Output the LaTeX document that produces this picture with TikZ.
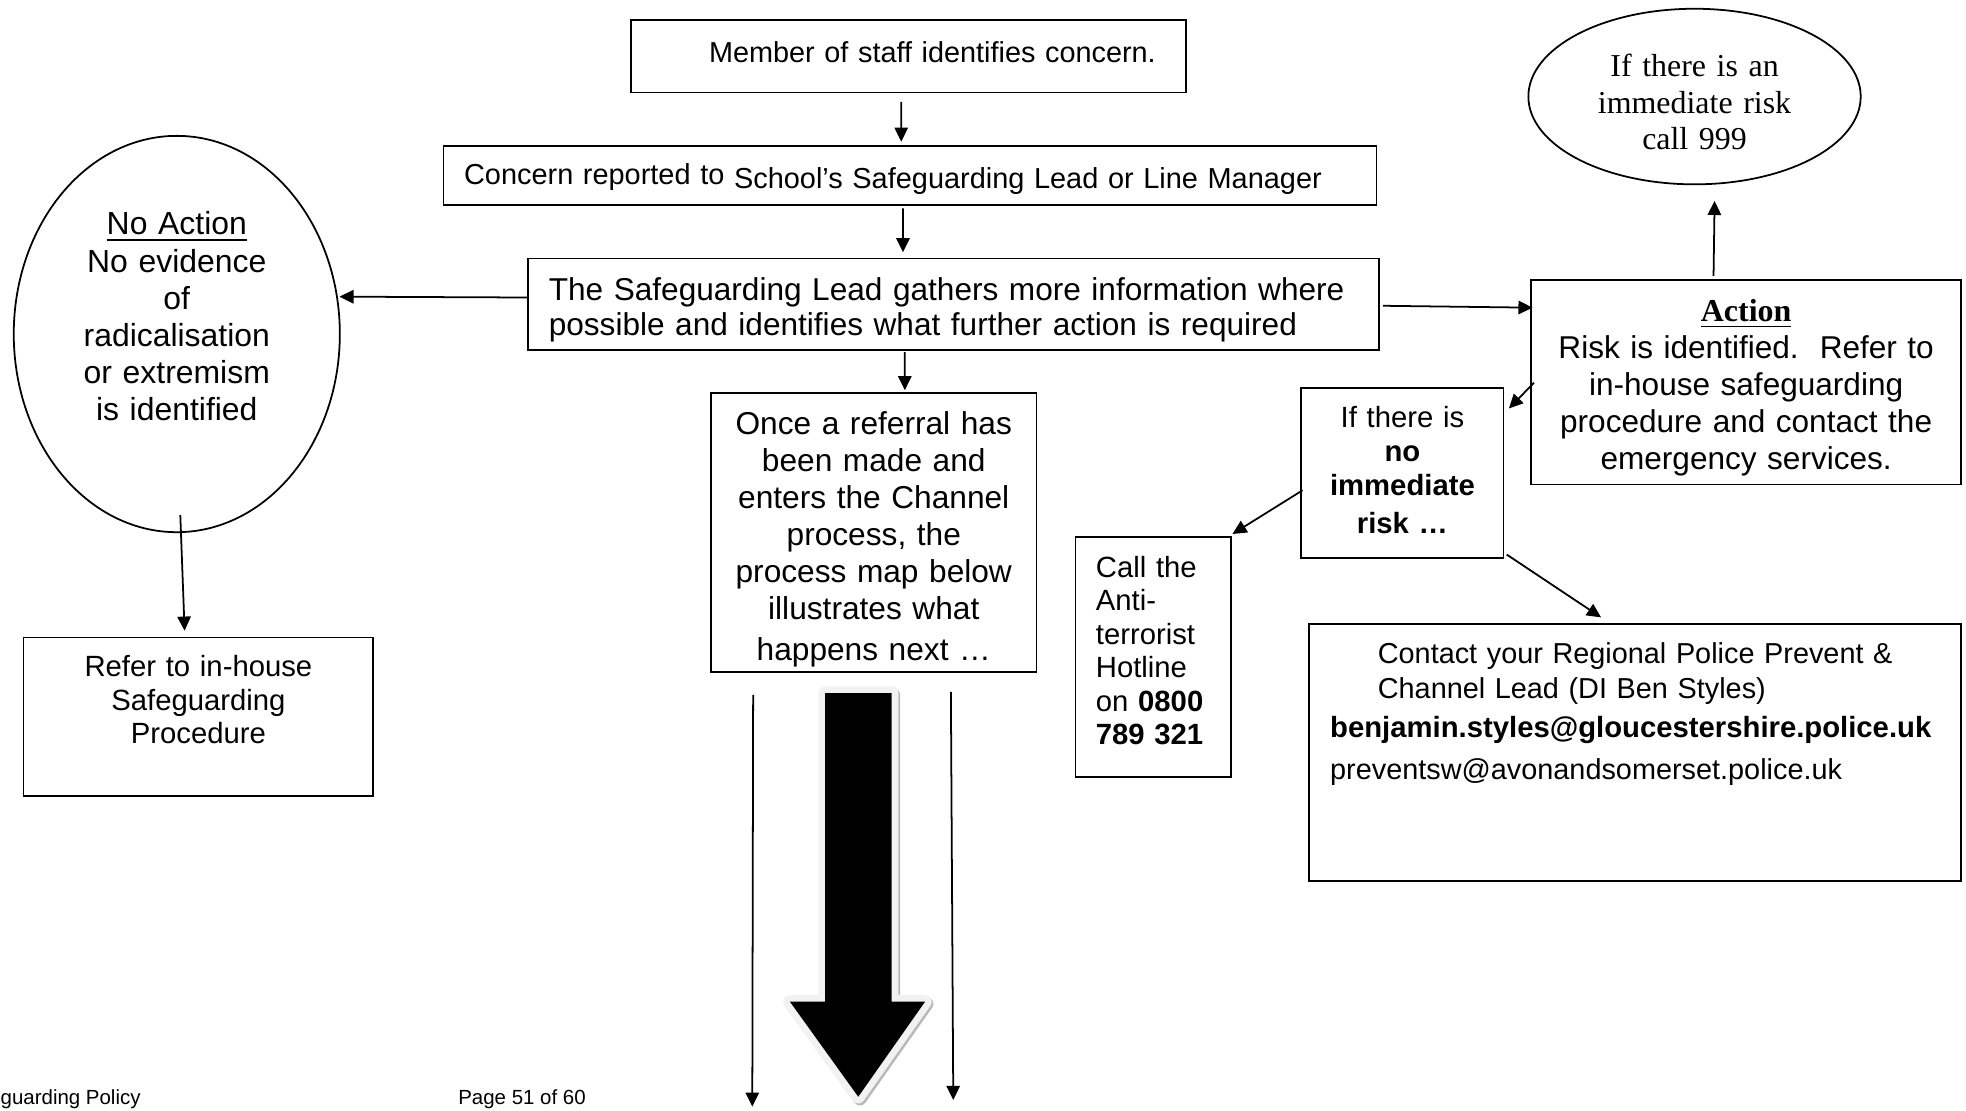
\documentclass[tikz,border=0pt]{standalone}
\usepackage{fontspec}
\setmainfont{Liberation Sans}
\newfontfamily\timesfont{Liberation Serif}
\usetikzlibrary{arrows.meta,calc,shapes.geometric}

\newcommand\bigarrowpath{(658,552.8) -- (711.2,552.8) -- (711.2,798.9) -- (737.8,798.9) -- (684.5,874.7) -- (630,798.9) -- (658,798.9) -- cycle}

\tikzset{
  flow/.style={draw, line width=0.5pt, anchor=north west, inner ysep=0pt},
  oval/.style={draw, ellipse, line width=0.5pt, inner sep=0pt, align=center},
  arr/.style={-{Triangle[length=4pt,width=3.8pt]}, line width=0.5pt},
}

\begin{document}
\begin{tikzpicture}[x=0.0125cm, y=-0.0125cm]
	%%%%% page %%%%%
	\useasboundingbox (0,0) rectangle (1568,886);
	
	%%%%% boxes %%%%%
	\node[flow, font={\fontsize{8.18}{9.6}\selectfont}, align=right, inner xsep=0.3cm, text width=4.9325cm, text height=0.425cm, text depth=0.299cm] (staff) at (502.4,15.2) {Member of staff identifies concern.};
	\node[flow, font={\fontsize{8.2}{9.6}\selectfont}, align=left, inner xsep=0.205cm, text width=8.89cm, text height=0.43cm, text depth=0.159cm] (report) at (353,115.6) {\raisebox{1.4pt}{Concern reported to} School’s Safeguarding Lead or Line Manager};
	\node[flow, font={\fontsize{8.96}{9.96}\selectfont}, align=left, inner xsep=0.2075cm, text width=8.0675cm, text height=0.419cm, text depth=0.4925cm] (gather) at (420.4,205.5) {The Safeguarding Lead gathers more information where\\ possible and identifies what further action is required};
	
	\node[oval, font={\fontsize{9.05}{10.53}\selectfont}, minimum width=3.25cm, minimum height=3.95cm, text width=2cm, text height=0.15cm, text depth=2.125cm] (noaction) at (141,266.4) {\underline{No Action}\\ No evidence\\ of\\ radicalisation\\ or extremism\\ is identified};
	\node[flow, font={\fontsize{8.3}{9.43}\selectfont}, align=center, inner xsep=0.125cm, text width=3.235cm, text height=0.3925cm, text depth=1.185cm] (refer) at (18.1,507.8) {Refer to in-house\\ Safeguarding\\ Procedure};
	
	\node[flow, font={\fontsize{8.98}{10.46}\selectfont}, align=center, inner xsep=0.125cm, text width=2.996cm, text height=0.416cm, text depth=2.3625cm] (referral) at (566.3,312.7) {Once a referral has\\ been made and\\ enters the Channel\\ process, the\\ process map below\\ illustrates what\\[1.2pt] happens next …};
	
	\node[oval, font={\timesfont\fontsize{9.05}{10.3}\selectfont}, minimum width=3.3125cm, minimum height=1.75cm, text width=2.125cm, text height=0.125cm, text depth=0.5175cm] (callnine) at (1351.5,77) {If there is an\\ immediate risk\\ call 999};
	\node[flow, font={\fontsize{8.95}{10.53}\selectfont}, align=center, inner xsep=0.125cm, text width=4.035cm, text height=0.414cm, text depth=1.625cm] (action) at (1220.5,222.5) {{\timesfont\bfseries\fontsize{9.05}{10.53}\selectfont\underline{Action}}\\ Risk is identified.~~Refer to\\ in-house safeguarding\\ procedure and contact the\\ emergency services.};
	\node[flow, font={\fontsize{8.3}{9.75}\selectfont}, align=center, inner xsep=0.125cm, text width=1.765cm, text height=0.3875cm, text depth=1.3cm] (norisk) at (1037.2,309) {If there is\\ \textbf{no}\\ \textbf{immediate}\\[1pt] \textbf{risk …}};
	\node[flow, font={\fontsize{8.3}{9.5}\selectfont}, align=left, inner xsep=0.204cm, text width=1.14cm, text height=0.4cm, text depth=1.991cm] (hotline) at (857,427.7) {Call the\\ Anti-\\ terrorist\\ Hotline\\ on \textbf{0800}\\ \textbf{789 321}};
	\node[flow, font={\fontsize{8.18}{9.75}\selectfont}, align=left, inner xsep=0.21cm, text width=6.079cm, text height=0.401cm, text depth=2.164cm] (contact) at (1043.4,496.7) {\hspace*{0.475cm}Contact your Regional Police Prevent \&\\ \hspace*{0.475cm}Channel Lead (DI Ben Styles)\\[1.5pt] {\fontsize{8.3}{9.75}\selectfont\bfseries benjamin.styles@gloucestershire.police.uk}\\[2.06pt] preventsw@avonandsomerset.police.uk};
	
	%%%%% arrows %%%%%
	\draw[arr] ($(staff.south)+(-5.7,6.7)$) -- ($(report.north)+(-7,-2.6)$);
	\draw[arr] ($(report.south)+(-5.6,2)$) -- ($(gather.north)+(-40.3,-4.3)$);
	\draw[arr] ($(gather.south)+(-39,1)$) -- ($(referral.north)+(24.8,-1.5)$);
	\draw[arr] ($(gather.west)+(0,-5.4)$) -- ($(noaction.east)+(-1,-29.8)$);
	\draw[arr] ($(noaction.south)+(2.8,-14.4)$) -- ($(refer.north)+(-11,-4.8)$);
	\draw[arr] ($(gather.east)+(2.5,1.2)$) -- ($(action.west)+(1.8,-59.4)$);
	\draw[arr] ($(action.north)+(-26,-2.5)$) -- ($(callnine.south)+(16,12.5)$);
	\draw[arr] ($(action.west)+(3,0.4)$) -- ($(norisk.north east)+(3.6,16.8)$);
	\draw[arr] ($(norisk.west)+(1.7,13.8)$) -- ($(hotline.north east)+(0.7,-1.8)$);
	\draw[arr] ($(norisk.south east)+(1.8,-3.2)$) -- ($(contact.north)+(-27.2,-4.3)$);
	
	\coordinate (leftfoot) at (600,882.6);
	\coordinate (rightfoot) at (760.3,877.3);
	\draw[arr] ($(referral.south)+(-96.2,17.8)$) -- (leftfoot);
	\draw[arr] ($(referral.south)+(61.5,15.3)$) -- (rightfoot);
	
	%%%%% big arrow %%%%%
	\draw[gray!55, line width=3.8pt, line join=round, shift={(1.4,1.6)}] \bigarrowpath;
	\draw[gray!10, line width=3.8pt, line join=round] \bigarrowpath;
	\fill[black] \bigarrowpath;
	
	%%%%% footer %%%%%
	\node[anchor=base west, inner sep=0pt, font={\fontsize{5.8}{7}\selectfont}] (doctitle) at (0,881) {guarding Policy};
	\node[anchor=base west, inner sep=0pt, font={\fontsize{5.8}{7}\selectfont}] (pagenum) at (365,881) {Page 51 of 60};
\end{tikzpicture}
\end{document}
